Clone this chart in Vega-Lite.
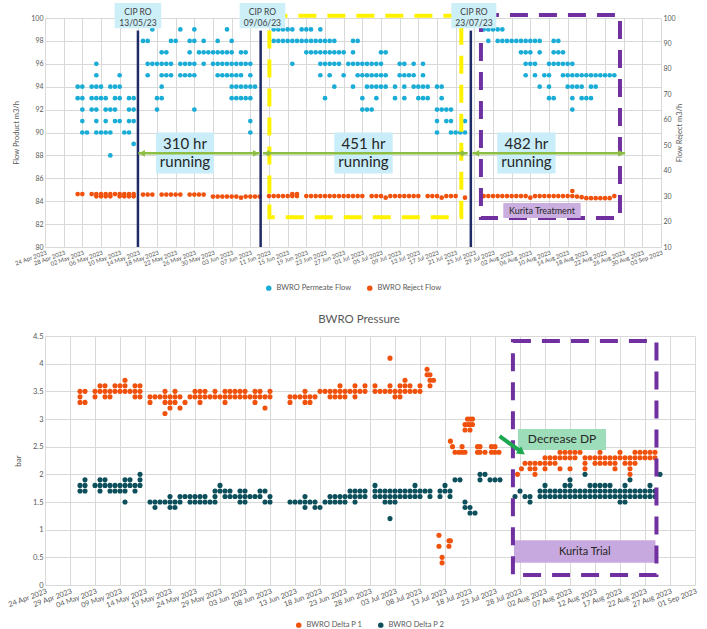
{
"$schema":"https://vega.github.io/schema/vega-lite/v6.json",
"padding":{"left":6,"top":3,"right":4,"bottom":2},
"columns":1,
"spacing":21,
"resolve":{"scale":{"color":"independent"},"legend":{"color":"independent"}},
"config":{"font":"Lato","view":{"stroke":null},
"axis":{"labelColor":"#595959","titleColor":"#595959","gridColor":"#D9D9D9","domain":false,"ticks":false,"titleFontWeight":"normal","labelFlush":false,"labelOverlap":false,"labelBound":false},
"legend":{"layout":{"bottom":{"anchor":"middle"}}}},
"datasets":{
"perm":[
{"d":"2023-05-17","v":99},{"d":"2023-05-23","v":99},{"d":"2023-05-26","v":99},{"d":"2023-06-02","v":99},{"d":"2023-06-12","v":99},{"d":"2023-06-13","v":99},{"d":"2023-06-14","v":99},{"d":"2023-06-15","v":99},{"d":"2023-06-16","v":99},{"d":"2023-06-18","v":99},{"d":"2023-06-19","v":99},{"d":"2023-06-20","v":99},{"d":"2023-06-22","v":99},{"d":"2023-07-27","v":99},{"d":"2023-07-28","v":99},{"d":"2023-07-29","v":99},{"d":"2023-07-30","v":99},{"d":"2023-07-31","v":99},
{"d":"2023-05-15","v":98},{"d":"2023-05-16","v":98},{"d":"2023-05-21","v":98},{"d":"2023-05-22","v":98},{"d":"2023-05-25","v":98},{"d":"2023-05-26","v":98},{"d":"2023-05-28","v":98},{"d":"2023-05-31","v":98},{"d":"2023-06-03","v":98},{"d":"2023-06-12","v":98},{"d":"2023-06-13","v":98},{"d":"2023-06-14","v":98},{"d":"2023-06-15","v":98},{"d":"2023-06-16","v":98},{"d":"2023-06-17","v":98},{"d":"2023-06-18","v":98},{"d":"2023-06-19","v":98},{"d":"2023-06-20","v":98},{"d":"2023-06-21","v":98},{"d":"2023-06-22","v":98},{"d":"2023-06-23","v":98},{"d":"2023-06-24","v":98},{"d":"2023-06-25","v":98},{"d":"2023-06-29","v":98},{"d":"2023-06-30","v":98},{"d":"2023-07-28","v":98},{"d":"2023-07-30","v":98},{"d":"2023-07-31","v":98},{"d":"2023-08-01","v":98},{"d":"2023-08-02","v":98},{"d":"2023-08-03","v":98},{"d":"2023-08-04","v":98},{"d":"2023-08-05","v":98},{"d":"2023-08-06","v":98},{"d":"2023-08-07","v":98},{"d":"2023-08-08","v":98},{"d":"2023-08-11","v":98},{"d":"2023-08-12","v":98},
{"d":"2023-05-19","v":97},{"d":"2023-05-20","v":97},{"d":"2023-05-25","v":97},{"d":"2023-05-27","v":97},{"d":"2023-05-28","v":97},{"d":"2023-05-29","v":97},{"d":"2023-05-30","v":97},{"d":"2023-05-31","v":97},{"d":"2023-06-01","v":97},{"d":"2023-06-02","v":97},{"d":"2023-06-03","v":97},{"d":"2023-06-05","v":97},{"d":"2023-06-06","v":97},{"d":"2023-06-19","v":97},{"d":"2023-06-20","v":97},{"d":"2023-06-21","v":97},{"d":"2023-06-22","v":97},{"d":"2023-06-23","v":97},{"d":"2023-06-24","v":97},{"d":"2023-06-25","v":97},{"d":"2023-06-26","v":97},{"d":"2023-06-27","v":97},{"d":"2023-06-29","v":97},{"d":"2023-07-05","v":97},{"d":"2023-07-06","v":97},{"d":"2023-08-04","v":97},{"d":"2023-08-05","v":97},{"d":"2023-08-06","v":97},{"d":"2023-08-08","v":97},{"d":"2023-08-11","v":97},{"d":"2023-08-12","v":97},{"d":"2023-08-13","v":97},
{"d":"2023-05-05","v":96},{"d":"2023-05-16","v":96},{"d":"2023-05-17","v":96},{"d":"2023-05-18","v":96},{"d":"2023-05-19","v":96},{"d":"2023-05-20","v":96},{"d":"2023-05-21","v":96},{"d":"2023-05-23","v":96},{"d":"2023-05-24","v":96},{"d":"2023-05-25","v":96},{"d":"2023-05-26","v":96},{"d":"2023-05-28","v":96},{"d":"2023-05-30","v":96},{"d":"2023-05-31","v":96},{"d":"2023-06-01","v":96},{"d":"2023-06-02","v":96},{"d":"2023-06-03","v":96},{"d":"2023-06-04","v":96},{"d":"2023-06-05","v":96},{"d":"2023-06-06","v":96},{"d":"2023-06-07","v":96},{"d":"2023-06-16","v":96},{"d":"2023-06-22","v":96},{"d":"2023-06-23","v":96},{"d":"2023-06-24","v":96},{"d":"2023-06-25","v":96},{"d":"2023-06-26","v":96},{"d":"2023-06-28","v":96},{"d":"2023-06-29","v":96},{"d":"2023-06-30","v":96},{"d":"2023-07-01","v":96},{"d":"2023-07-02","v":96},{"d":"2023-07-03","v":96},{"d":"2023-07-04","v":96},{"d":"2023-07-05","v":96},{"d":"2023-07-09","v":96},{"d":"2023-07-10","v":96},{"d":"2023-07-12","v":96},{"d":"2023-07-14","v":96},{"d":"2023-08-05","v":96},{"d":"2023-08-06","v":96},{"d":"2023-08-07","v":96},{"d":"2023-08-10","v":96},{"d":"2023-08-11","v":96},{"d":"2023-08-12","v":96},{"d":"2023-08-13","v":96},{"d":"2023-08-14","v":96},{"d":"2023-08-15","v":96},
{"d":"2023-05-05","v":95},{"d":"2023-05-10","v":95},{"d":"2023-05-16","v":95},{"d":"2023-05-19","v":95},{"d":"2023-05-20","v":95},{"d":"2023-05-21","v":95},{"d":"2023-05-23","v":95},{"d":"2023-05-24","v":95},{"d":"2023-05-25","v":95},{"d":"2023-05-26","v":95},{"d":"2023-05-31","v":95},{"d":"2023-06-01","v":95},{"d":"2023-06-02","v":95},{"d":"2023-06-03","v":95},{"d":"2023-06-04","v":95},{"d":"2023-06-05","v":95},{"d":"2023-06-07","v":95},{"d":"2023-06-22","v":95},{"d":"2023-06-24","v":95},{"d":"2023-06-27","v":95},{"d":"2023-06-30","v":95},{"d":"2023-07-01","v":95},{"d":"2023-07-02","v":95},{"d":"2023-07-03","v":95},{"d":"2023-07-04","v":95},{"d":"2023-07-05","v":95},{"d":"2023-07-06","v":95},{"d":"2023-07-09","v":95},{"d":"2023-07-10","v":95},{"d":"2023-07-11","v":95},{"d":"2023-07-12","v":95},{"d":"2023-07-14","v":95},{"d":"2023-08-05","v":95},{"d":"2023-08-07","v":95},{"d":"2023-08-09","v":95},{"d":"2023-08-10","v":95},{"d":"2023-08-13","v":95},{"d":"2023-08-14","v":95},{"d":"2023-08-15","v":95},{"d":"2023-08-16","v":95},{"d":"2023-08-17","v":95},{"d":"2023-08-18","v":95},{"d":"2023-08-19","v":95},{"d":"2023-08-20","v":95},{"d":"2023-08-21","v":95},{"d":"2023-08-22","v":95},{"d":"2023-08-23","v":95},{"d":"2023-08-24","v":95},
{"d":"2023-05-01","v":94},{"d":"2023-05-02","v":94},{"d":"2023-05-04","v":94},{"d":"2023-05-05","v":94},{"d":"2023-05-06","v":94},{"d":"2023-05-08","v":94},{"d":"2023-05-09","v":94},{"d":"2023-05-10","v":94},{"d":"2023-05-19","v":94},{"d":"2023-06-03","v":94},{"d":"2023-06-04","v":94},{"d":"2023-06-05","v":94},{"d":"2023-06-06","v":94},{"d":"2023-06-07","v":94},{"d":"2023-06-08","v":94},{"d":"2023-06-25","v":94},{"d":"2023-06-29","v":94},{"d":"2023-07-02","v":94},{"d":"2023-07-03","v":94},{"d":"2023-07-04","v":94},{"d":"2023-07-05","v":94},{"d":"2023-07-06","v":94},{"d":"2023-07-08","v":94},{"d":"2023-07-10","v":94},{"d":"2023-07-12","v":94},{"d":"2023-07-13","v":94},{"d":"2023-07-14","v":94},{"d":"2023-07-15","v":94},{"d":"2023-07-17","v":94},{"d":"2023-07-18","v":94},{"d":"2023-08-08","v":94},{"d":"2023-08-10","v":94},{"d":"2023-08-14","v":94},{"d":"2023-08-15","v":94},{"d":"2023-08-16","v":94},{"d":"2023-08-17","v":94},{"d":"2023-08-19","v":94},{"d":"2023-08-20","v":94},
{"d":"2023-05-01","v":93},{"d":"2023-05-02","v":93},{"d":"2023-05-04","v":93},{"d":"2023-05-05","v":93},{"d":"2023-05-06","v":93},{"d":"2023-05-07","v":93},{"d":"2023-05-09","v":93},{"d":"2023-05-10","v":93},{"d":"2023-05-12","v":93},{"d":"2023-05-13","v":93},{"d":"2023-05-18","v":93},{"d":"2023-05-19","v":93},{"d":"2023-06-03","v":93},{"d":"2023-06-04","v":93},{"d":"2023-06-05","v":93},{"d":"2023-06-06","v":93},{"d":"2023-06-07","v":93},{"d":"2023-06-23","v":93},{"d":"2023-07-01","v":93},{"d":"2023-07-04","v":93},{"d":"2023-07-08","v":93},{"d":"2023-07-10","v":93},{"d":"2023-07-13","v":93},{"d":"2023-07-14","v":93},{"d":"2023-07-15","v":93},{"d":"2023-07-18","v":93},{"d":"2023-08-10","v":93},{"d":"2023-08-11","v":93},{"d":"2023-08-15","v":93},{"d":"2023-08-17","v":93},{"d":"2023-08-18","v":93},{"d":"2023-08-19","v":93},
{"d":"2023-05-02","v":92},{"d":"2023-05-04","v":92},{"d":"2023-05-05","v":92},{"d":"2023-05-07","v":92},{"d":"2023-05-08","v":92},{"d":"2023-05-09","v":92},{"d":"2023-05-12","v":92},{"d":"2023-05-13","v":92},{"d":"2023-05-18","v":92},{"d":"2023-05-26","v":92},{"d":"2023-07-01","v":92},{"d":"2023-07-02","v":92},{"d":"2023-07-03","v":92},{"d":"2023-07-17","v":92},{"d":"2023-07-18","v":92},{"d":"2023-07-19","v":92},{"d":"2023-07-20","v":92},{"d":"2023-08-15","v":92},
{"d":"2023-05-02","v":91},{"d":"2023-05-05","v":91},{"d":"2023-05-07","v":91},{"d":"2023-05-09","v":91},{"d":"2023-05-10","v":91},{"d":"2023-05-12","v":91},{"d":"2023-05-13","v":91},{"d":"2023-06-07","v":91},{"d":"2023-07-17","v":91},{"d":"2023-07-19","v":91},{"d":"2023-07-20","v":91},{"d":"2023-07-23","v":91},
{"d":"2023-05-02","v":90},{"d":"2023-05-03","v":90},{"d":"2023-05-05","v":90},{"d":"2023-05-06","v":90},{"d":"2023-05-07","v":90},{"d":"2023-05-08","v":90},{"d":"2023-05-11","v":90},{"d":"2023-05-12","v":90},{"d":"2023-06-07","v":90},{"d":"2023-07-17","v":90},{"d":"2023-07-20","v":90},{"d":"2023-07-21","v":90},{"d":"2023-07-22","v":90},{"d":"2023-07-23","v":90},
{"d":"2023-05-13","v":89},{"d":"2023-05-08","v":88}
],
"rej":[
{"d":"2023-05-01","v":30.8},{"d":"2023-05-02","v":30.8},{"d":"2023-05-04","v":30.8},{"d":"2023-05-05","v":30.8},{"d":"2023-05-06","v":30.8},{"d":"2023-05-07","v":30.8},{"d":"2023-05-08","v":30.8},{"d":"2023-05-09","v":30.8},{"d":"2023-05-10","v":30.8},{"d":"2023-05-11","v":30.8},{"d":"2023-05-12","v":30.8},{"d":"2023-05-13","v":30.8},
{"d":"2023-05-05","v":29.9},{"d":"2023-05-06","v":29.9},{"d":"2023-05-07","v":29.9},{"d":"2023-05-08","v":29.9},{"d":"2023-05-10","v":29.9},{"d":"2023-05-11","v":29.9},{"d":"2023-05-12","v":29.9},{"d":"2023-05-13","v":29.9},
{"d":"2023-05-15","v":30.6},{"d":"2023-05-16","v":30.6},{"d":"2023-05-17","v":30.6},{"d":"2023-05-19","v":30.6},{"d":"2023-05-20","v":30.6},{"d":"2023-05-21","v":30.6},{"d":"2023-05-22","v":30.6},{"d":"2023-05-23","v":30.6},{"d":"2023-05-25","v":30.6},{"d":"2023-05-26","v":30.6},{"d":"2023-05-27","v":30.6},{"d":"2023-05-28","v":30.6},
{"d":"2023-05-30","v":29.8},{"d":"2023-05-31","v":29.8},{"d":"2023-06-01","v":29.8},{"d":"2023-06-02","v":29.8},{"d":"2023-06-03","v":29.8},{"d":"2023-06-04","v":29.8},{"d":"2023-06-05","v":29.4},{"d":"2023-06-06","v":29.8},{"d":"2023-06-07","v":29.8},{"d":"2023-06-08","v":29.8},{"d":"2023-06-09","v":29.8},
{"d":"2023-06-11","v":30},{"d":"2023-06-12","v":30},{"d":"2023-06-13","v":30},{"d":"2023-06-14","v":30},{"d":"2023-06-15","v":30},{"d":"2023-06-16","v":30},{"d":"2023-06-16","v":30.8},{"d":"2023-06-17","v":30.8},{"d":"2023-06-17","v":30},{"d":"2023-06-19","v":30},{"d":"2023-06-20","v":30},{"d":"2023-06-21","v":30},{"d":"2023-06-22","v":30},{"d":"2023-06-23","v":30},{"d":"2023-06-24","v":30},{"d":"2023-06-25","v":30},{"d":"2023-06-26","v":30},{"d":"2023-06-27","v":30},{"d":"2023-06-28","v":30},{"d":"2023-06-29","v":30},{"d":"2023-06-30","v":30},{"d":"2023-07-01","v":30},
{"d":"2023-07-03","v":30},{"d":"2023-07-04","v":30},{"d":"2023-07-05","v":30},{"d":"2023-07-06","v":29.4},{"d":"2023-07-07","v":30},{"d":"2023-07-08","v":30},{"d":"2023-07-09","v":30},{"d":"2023-07-10","v":30},{"d":"2023-07-11","v":30},{"d":"2023-07-12","v":30},{"d":"2023-07-13","v":30},{"d":"2023-07-15","v":30},{"d":"2023-07-16","v":30},{"d":"2023-07-17","v":30},{"d":"2023-07-18","v":29.4},{"d":"2023-07-19","v":30},{"d":"2023-07-20","v":30},{"d":"2023-07-21","v":30},{"d":"2023-07-23","v":29.4},
{"d":"2023-07-27","v":30},{"d":"2023-07-28","v":30},{"d":"2023-07-29","v":30},{"d":"2023-07-30","v":30},{"d":"2023-07-31","v":30},{"d":"2023-08-01","v":30},{"d":"2023-08-02","v":30},{"d":"2023-08-03","v":30},{"d":"2023-08-04","v":30},{"d":"2023-08-05","v":30},{"d":"2023-08-06","v":29.4},{"d":"2023-08-07","v":30},{"d":"2023-08-08","v":30},{"d":"2023-08-09","v":30},{"d":"2023-08-10","v":30},{"d":"2023-08-11","v":30},{"d":"2023-08-12","v":30},{"d":"2023-08-13","v":30},{"d":"2023-08-14","v":30},{"d":"2023-08-15","v":32},{"d":"2023-08-15","v":30},{"d":"2023-08-16","v":29.8},{"d":"2023-08-17","v":29.6},{"d":"2023-08-18","v":29.2},{"d":"2023-08-19","v":29.2},{"d":"2023-08-20","v":29.2},{"d":"2023-08-21","v":29.2},{"d":"2023-08-22","v":29.2},{"d":"2023-08-23","v":29.2},{"d":"2023-08-24","v":30}
],
"dp1":[
{"d":"2023-05-01","v":3.5},{"d":"2023-05-01","v":3.4},{"d":"2023-05-01","v":3.3},{"d":"2023-05-02","v":3.5},{"d":"2023-05-02","v":3.3},{"d":"2023-05-04","v":3.5},{"d":"2023-05-04","v":3.4},{"d":"2023-05-05","v":3.5},{"d":"2023-05-05","v":3.6},{"d":"2023-05-06","v":3.5},{"d":"2023-05-06","v":3.6},{"d":"2023-05-06","v":3.4},{"d":"2023-05-07","v":3.5},{"d":"2023-05-07","v":3.4},{"d":"2023-05-08","v":3.5},{"d":"2023-05-08","v":3.6},{"d":"2023-05-09","v":3.5},{"d":"2023-05-09","v":3.6},{"d":"2023-05-10","v":3.5},{"d":"2023-05-10","v":3.6},{"d":"2023-05-10","v":3.7},{"d":"2023-05-11","v":3.5},{"d":"2023-05-12","v":3.5},{"d":"2023-05-12","v":3.4},{"d":"2023-05-12","v":3.6},{"d":"2023-05-13","v":3.5},{"d":"2023-05-13","v":3.4},{"d":"2023-05-13","v":3.6},
{"d":"2023-05-15","v":3.4},{"d":"2023-05-15","v":3.3},{"d":"2023-05-16","v":3.4},{"d":"2023-05-17","v":3.4},{"d":"2023-05-18","v":3.4},{"d":"2023-05-18","v":3.3},{"d":"2023-05-18","v":3.1},{"d":"2023-05-18","v":3.5},{"d":"2023-05-19","v":3.4},{"d":"2023-05-19","v":3.3},{"d":"2023-05-19","v":3.2},{"d":"2023-05-20","v":3.4},{"d":"2023-05-20","v":3.3},{"d":"2023-05-20","v":3.5},{"d":"2023-05-21","v":3.4},{"d":"2023-05-21","v":3.2},{"d":"2023-05-22","v":3.3},{"d":"2023-05-23","v":3.4},{"d":"2023-05-24","v":3.5},{"d":"2023-05-24","v":3.4},{"d":"2023-05-25","v":3.3},{"d":"2023-05-25","v":3.5},{"d":"2023-05-25","v":3.4},{"d":"2023-05-26","v":3.5},{"d":"2023-05-26","v":3.4},{"d":"2023-05-27","v":3.4},{"d":"2023-05-28","v":3.4},{"d":"2023-05-28","v":3.5},{"d":"2023-05-29","v":3.4},{"d":"2023-05-30","v":3.3},{"d":"2023-05-30","v":3.4},{"d":"2023-05-30","v":3.5},{"d":"2023-05-31","v":3.4},{"d":"2023-05-31","v":3.5},{"d":"2023-06-01","v":3.4},{"d":"2023-06-01","v":3.5},{"d":"2023-06-02","v":3.4},{"d":"2023-06-02","v":3.5},{"d":"2023-06-03","v":3.4},{"d":"2023-06-03","v":3.5},{"d":"2023-06-04","v":3.4},{"d":"2023-06-05","v":3.3},{"d":"2023-06-05","v":3.4},{"d":"2023-06-05","v":3.5},{"d":"2023-06-06","v":3.4},{"d":"2023-06-06","v":3.5},{"d":"2023-06-07","v":3.2},{"d":"2023-06-07","v":3.4},{"d":"2023-06-08","v":3.4},{"d":"2023-06-08","v":3.5},
{"d":"2023-06-12","v":3.3},{"d":"2023-06-12","v":3.4},{"d":"2023-06-13","v":3.4},{"d":"2023-06-14","v":3.4},{"d":"2023-06-15","v":3.4},{"d":"2023-06-15","v":3.5},{"d":"2023-06-15","v":3.3},{"d":"2023-06-16","v":3.4},{"d":"2023-06-16","v":3.3},{"d":"2023-06-17","v":3.4},{"d":"2023-06-18","v":3.5},{"d":"2023-06-19","v":3.5},{"d":"2023-06-20","v":3.5},{"d":"2023-06-20","v":3.4},{"d":"2023-06-21","v":3.4},{"d":"2023-06-21","v":3.5},{"d":"2023-06-22","v":3.4},{"d":"2023-06-22","v":3.5},{"d":"2023-06-22","v":3.6},{"d":"2023-06-23","v":3.4},{"d":"2023-06-23","v":3.5},{"d":"2023-06-24","v":3.5},{"d":"2023-06-25","v":3.5},{"d":"2023-06-25","v":3.4},{"d":"2023-06-25","v":3.6},{"d":"2023-06-26","v":3.5},{"d":"2023-06-27","v":3.5},{"d":"2023-06-27","v":3.6},{"d":"2023-06-29","v":3.5},{"d":"2023-06-29","v":3.6},{"d":"2023-06-30","v":3.5},{"d":"2023-07-01","v":3.5},{"d":"2023-07-02","v":3.5},{"d":"2023-07-02","v":3.6},{"d":"2023-07-02","v":4.1},{"d":"2023-07-03","v":3.5},{"d":"2023-07-03","v":3.4},{"d":"2023-07-04","v":3.5},{"d":"2023-07-04","v":3.6},{"d":"2023-07-04","v":3.4},{"d":"2023-07-05","v":3.5},{"d":"2023-07-05","v":3.6},{"d":"2023-07-05","v":3.7},{"d":"2023-07-06","v":3.5},{"d":"2023-07-06","v":3.6},{"d":"2023-07-07","v":3.5},{"d":"2023-07-08","v":3.5},{"d":"2023-07-08","v":3.6},
{"d":"2023-07-09T10:00:00Z","v":3.9},{"d":"2023-07-09T10:00:00Z","v":3.8},{"d":"2023-07-10","v":3.8},{"d":"2023-07-10","v":3.7},{"d":"2023-07-10","v":3.6},{"d":"2023-07-10T17:00:00Z","v":3.7},
{"d":"2023-07-11T19:00:00Z","v":0.9},{"d":"2023-07-11T19:00:00Z","v":0.7},{"d":"2023-07-12T10:00:00Z","v":0.5},{"d":"2023-07-12T10:00:00Z","v":0.4},{"d":"2023-07-13T19:00:00Z","v":0.8},{"d":"2023-07-13T19:00:00Z","v":0.7},{"d":"2023-07-14T02:00:00Z","v":0.8},
{"d":"2023-07-14T02:00:00Z","v":2.6},{"d":"2023-07-14T12:00:00Z","v":2.5},{"d":"2023-07-15","v":2.4},{"d":"2023-07-15T19:00:00Z","v":2.4},{"d":"2023-07-16T10:00:00Z","v":2.4},{"d":"2023-07-16T10:00:00Z","v":2.5},{"d":"2023-07-17","v":2.4},{"d":"2023-07-17","v":2.8},{"d":"2023-07-17","v":2.9},{"d":"2023-07-17T12:00:00Z","v":3.0},{"d":"2023-07-17T12:00:00Z","v":2.9},{"d":"2023-07-18","v":3.0},{"d":"2023-07-18","v":2.9},{"d":"2023-07-18","v":2.8},{"d":"2023-07-18T12:00:00Z","v":3.0},{"d":"2023-07-18T12:00:00Z","v":2.9},{"d":"2023-07-19T12:00:00Z","v":2.5},{"d":"2023-07-19T12:00:00Z","v":2.4},{"d":"2023-07-20","v":2.4},{"d":"2023-07-20","v":2.5},{"d":"2023-07-21","v":2.4},{"d":"2023-07-22T07:00:00Z","v":2.4},{"d":"2023-07-22T07:00:00Z","v":2.5},{"d":"2023-07-23","v":2.4},{"d":"2023-07-23","v":2.5},{"d":"2023-07-23T19:00:00Z","v":2.4},
{"d":"2023-07-27T12:00:00Z","v":2.0},{"d":"2023-07-28T07:00:00Z","v":2.1},{"d":"2023-07-29","v":2.2},{"d":"2023-07-30","v":2.2},{"d":"2023-07-30","v":2.1},{"d":"2023-07-31","v":2.2},{"d":"2023-07-31","v":2.1},{"d":"2023-07-31","v":2.0},{"d":"2023-08-01","v":2.2},{"d":"2023-08-02","v":2.2},{"d":"2023-08-02","v":2.3},{"d":"2023-08-02","v":2.1},{"d":"2023-08-03","v":2.3},{"d":"2023-08-03","v":2.2},{"d":"2023-08-04","v":2.3},{"d":"2023-08-04","v":2.2},{"d":"2023-08-05","v":2.3},{"d":"2023-08-05","v":2.4},{"d":"2023-08-05","v":2.1},{"d":"2023-08-06","v":2.3},{"d":"2023-08-06","v":2.4},{"d":"2023-08-07","v":2.3},{"d":"2023-08-07","v":2.4},{"d":"2023-08-07","v":2.1},{"d":"2023-08-08","v":2.3},{"d":"2023-08-08","v":2.4},{"d":"2023-08-09","v":2.4},{"d":"2023-08-10","v":2.3},{"d":"2023-08-10","v":2.2},{"d":"2023-08-10","v":2.1},{"d":"2023-08-11","v":2.3},{"d":"2023-08-12","v":2.3},{"d":"2023-08-12","v":2.2},{"d":"2023-08-13","v":2.3},{"d":"2023-08-13","v":2.4},{"d":"2023-08-13","v":2.2},{"d":"2023-08-14","v":2.2},{"d":"2023-08-14","v":2.3},{"d":"2023-08-15","v":2.2},{"d":"2023-08-15","v":2.3},{"d":"2023-08-16","v":2.2},{"d":"2023-08-16","v":2.3},{"d":"2023-08-16","v":2.1},{"d":"2023-08-17","v":2.3},{"d":"2023-08-17","v":2.4},{"d":"2023-08-18","v":2.3},{"d":"2023-08-18","v":2.2},{"d":"2023-08-19","v":2.3},{"d":"2023-08-19","v":2.2},{"d":"2023-08-19","v":2.1},{"d":"2023-08-19","v":2.0},{"d":"2023-08-20","v":2.4},{"d":"2023-08-20","v":2.3},{"d":"2023-08-20","v":2.2},{"d":"2023-08-21","v":2.4},{"d":"2023-08-21","v":2.3},{"d":"2023-08-22","v":2.4},{"d":"2023-08-22","v":2.3},{"d":"2023-08-23","v":2.4},{"d":"2023-08-23","v":2.3},{"d":"2023-08-24","v":2.4},{"d":"2023-08-24","v":2.3}
],
"dp2":[
{"d":"2023-05-01","v":1.8},{"d":"2023-05-01","v":1.7},{"d":"2023-05-02","v":1.9},{"d":"2023-05-02","v":1.8},{"d":"2023-05-02","v":1.7},{"d":"2023-05-04","v":1.8},{"d":"2023-05-05","v":1.8},{"d":"2023-05-05","v":1.9},{"d":"2023-05-05","v":1.7},{"d":"2023-05-06","v":1.8},{"d":"2023-05-06","v":1.9},{"d":"2023-05-07","v":1.8},{"d":"2023-05-07","v":1.7},{"d":"2023-05-08","v":1.8},{"d":"2023-05-08","v":1.7},{"d":"2023-05-09","v":1.8},{"d":"2023-05-09","v":1.7},{"d":"2023-05-10","v":1.8},{"d":"2023-05-10","v":1.9},{"d":"2023-05-10","v":1.5},{"d":"2023-05-10","v":1.7},{"d":"2023-05-11","v":1.8},{"d":"2023-05-11","v":1.9},{"d":"2023-05-12","v":1.8},{"d":"2023-05-12","v":1.7},{"d":"2023-05-13","v":1.8},{"d":"2023-05-13","v":1.9},{"d":"2023-05-13","v":2.0},
{"d":"2023-05-15","v":1.5},{"d":"2023-05-16","v":1.5},{"d":"2023-05-16","v":1.4},{"d":"2023-05-17","v":1.5},{"d":"2023-05-18","v":1.5},{"d":"2023-05-19","v":1.5},{"d":"2023-05-19","v":1.4},{"d":"2023-05-19","v":1.6},{"d":"2023-05-20","v":1.5},{"d":"2023-05-20","v":1.4},{"d":"2023-05-21","v":1.5},{"d":"2023-05-21","v":1.6},{"d":"2023-05-22","v":1.6},{"d":"2023-05-23","v":1.6},{"d":"2023-05-23","v":1.5},{"d":"2023-05-24","v":1.6},{"d":"2023-05-24","v":1.5},{"d":"2023-05-25","v":1.6},{"d":"2023-05-25","v":1.5},{"d":"2023-05-26","v":1.6},{"d":"2023-05-26","v":1.5},{"d":"2023-05-27","v":1.5},{"d":"2023-05-28","v":1.5},{"d":"2023-05-28","v":1.6},{"d":"2023-05-28","v":1.7},{"d":"2023-05-29","v":1.8},{"d":"2023-05-29","v":1.7},{"d":"2023-05-30","v":1.7},{"d":"2023-05-30","v":1.6},{"d":"2023-05-31","v":1.7},{"d":"2023-05-31","v":1.6},{"d":"2023-06-01","v":1.6},{"d":"2023-06-02","v":1.7},{"d":"2023-06-02","v":1.6},{"d":"2023-06-02","v":1.5},{"d":"2023-06-03","v":1.7},{"d":"2023-06-03","v":1.6},{"d":"2023-06-03","v":1.5},{"d":"2023-06-04","v":1.6},{"d":"2023-06-05","v":1.6},{"d":"2023-06-06","v":1.6},{"d":"2023-06-06","v":1.7},{"d":"2023-06-07","v":1.7},{"d":"2023-06-07","v":1.5},{"d":"2023-06-08","v":1.6},{"d":"2023-06-08","v":1.5},
{"d":"2023-06-12","v":1.5},{"d":"2023-06-13","v":1.5},{"d":"2023-06-14","v":1.5},{"d":"2023-06-15","v":1.5},{"d":"2023-06-15","v":1.4},{"d":"2023-06-15","v":1.6},{"d":"2023-06-16","v":1.5},{"d":"2023-06-17","v":1.5},{"d":"2023-06-17","v":1.4},{"d":"2023-06-18","v":1.4},{"d":"2023-06-19","v":1.5},{"d":"2023-06-20","v":1.5},{"d":"2023-06-20","v":1.6},{"d":"2023-06-21","v":1.5},{"d":"2023-06-21","v":1.6},{"d":"2023-06-22","v":1.6},{"d":"2023-06-22","v":1.5},{"d":"2023-06-23","v":1.6},{"d":"2023-06-23","v":1.5},{"d":"2023-06-24","v":1.6},{"d":"2023-06-24","v":1.7},{"d":"2023-06-25","v":1.6},{"d":"2023-06-25","v":1.7},{"d":"2023-06-25","v":1.5},{"d":"2023-06-26","v":1.6},{"d":"2023-06-26","v":1.7},{"d":"2023-06-27","v":1.7},{"d":"2023-06-27","v":1.6},{"d":"2023-06-29","v":1.8},{"d":"2023-06-29","v":1.7},{"d":"2023-06-29","v":1.6},{"d":"2023-06-30","v":1.7},{"d":"2023-06-30","v":1.6},{"d":"2023-07-01","v":1.7},{"d":"2023-07-01","v":1.6},{"d":"2023-07-01","v":1.5},{"d":"2023-07-02","v":1.7},{"d":"2023-07-02","v":1.6},{"d":"2023-07-02","v":1.5},{"d":"2023-07-02","v":1.2},{"d":"2023-07-03","v":1.7},{"d":"2023-07-03","v":1.6},{"d":"2023-07-03","v":1.5},{"d":"2023-07-04","v":1.7},{"d":"2023-07-04","v":1.6},{"d":"2023-07-05","v":1.7},{"d":"2023-07-05","v":1.6},{"d":"2023-07-06","v":1.7},{"d":"2023-07-06","v":1.6},{"d":"2023-07-07","v":1.8},{"d":"2023-07-07","v":1.7},{"d":"2023-07-07","v":1.6},{"d":"2023-07-08","v":1.7},{"d":"2023-07-08","v":1.6},{"d":"2023-07-09","v":1.7},{"d":"2023-07-10","v":1.7},{"d":"2023-07-10","v":1.6},{"d":"2023-07-12","v":1.7},{"d":"2023-07-12","v":1.6},{"d":"2023-07-13","v":1.8},{"d":"2023-07-13","v":1.7},{"d":"2023-07-14","v":1.7},{"d":"2023-07-14","v":1.6},{"d":"2023-07-15","v":1.9},{"d":"2023-07-16","v":1.9},{"d":"2023-07-17","v":1.5},{"d":"2023-07-17","v":1.4},{"d":"2023-07-18","v":1.4},{"d":"2023-07-18","v":1.3},{"d":"2023-07-19","v":1.3},{"d":"2023-07-20","v":2.0},{"d":"2023-07-20","v":1.9},{"d":"2023-07-21","v":2.0},{"d":"2023-07-22","v":1.9},{"d":"2023-07-23","v":1.9},{"d":"2023-07-24","v":1.9},
{"d":"2023-07-27","v":1.6},{"d":"2023-07-28","v":1.7},{"d":"2023-07-29","v":1.6},{"d":"2023-07-30","v":1.6},{"d":"2023-07-30","v":1.5},{"d":"2023-08-01","v":1.6},{"d":"2023-08-01","v":1.7},{"d":"2023-08-02","v":1.8},{"d":"2023-08-02","v":1.7},{"d":"2023-08-02","v":1.6},
{"d":"2023-08-03","v":1.6},{"d":"2023-08-03","v":1.7},{"d":"2023-08-04","v":1.6},{"d":"2023-08-04","v":1.7},{"d":"2023-08-05","v":1.6},{"d":"2023-08-05","v":1.7},{"d":"2023-08-06","v":1.6},{"d":"2023-08-06","v":1.7},{"d":"2023-08-06","v":1.8},{"d":"2023-08-07","v":1.6},{"d":"2023-08-07","v":1.7},{"d":"2023-08-07","v":1.8},{"d":"2023-08-07","v":1.9},{"d":"2023-08-08","v":1.6},{"d":"2023-08-08","v":1.7},{"d":"2023-08-09","v":1.6},{"d":"2023-08-09","v":1.7},{"d":"2023-08-10","v":1.6},{"d":"2023-08-10","v":1.7},{"d":"2023-08-10","v":2.0},{"d":"2023-08-11","v":1.6},{"d":"2023-08-11","v":1.7},{"d":"2023-08-11","v":1.8},{"d":"2023-08-12","v":1.6},{"d":"2023-08-12","v":1.7},{"d":"2023-08-12","v":1.8},{"d":"2023-08-13","v":1.6},{"d":"2023-08-13","v":1.7},{"d":"2023-08-13","v":1.8},{"d":"2023-08-14","v":1.6},{"d":"2023-08-14","v":1.7},{"d":"2023-08-14","v":1.8},{"d":"2023-08-15","v":1.6},{"d":"2023-08-15","v":1.7},{"d":"2023-08-15","v":1.8},{"d":"2023-08-16","v":1.6},{"d":"2023-08-16","v":1.7},{"d":"2023-08-17","v":1.6},{"d":"2023-08-17","v":1.7},{"d":"2023-08-17","v":1.5},{"d":"2023-08-18","v":1.6},{"d":"2023-08-18","v":1.7},{"d":"2023-08-18","v":1.5},{"d":"2023-08-18","v":1.8},{"d":"2023-08-19","v":1.6},{"d":"2023-08-19","v":1.7},{"d":"2023-08-19","v":1.9},{"d":"2023-08-20","v":1.6},{"d":"2023-08-20","v":1.7},{"d":"2023-08-21","v":1.6},{"d":"2023-08-21","v":1.7},{"d":"2023-08-22","v":1.6},{"d":"2023-08-22","v":1.7},{"d":"2023-08-23","v":1.6},{"d":"2023-08-23","v":1.7},{"d":"2023-08-23","v":1.8},{"d":"2023-08-24","v":1.6},{"d":"2023-08-24","v":1.7},{"d":"2023-08-25","v":2.0}
]
},
"concat":[
{
"width":616,"height":229,
"resolve":{"scale":{"y":"independent","x":"independent"}},
"layer":[
{"data":{"name":"perm"},"mark":{"type":"circle","size":22,"opacity":1},
"encoding":{
"x":{"field":"d","type":"temporal","scale":{"type":"utc","domain":[{"year":2023,"month":4,"date":24,"utc":true},{"year":2023,"month":9,"date":3,"utc":true}]},
"axis":{"title":null,"grid":true,"format":"%d %b %Y","labelAngle":-20,"labelFontSize":6,"labelPadding":2,"labelOverlap":false,"labelFlush":false,
"values":[{"year":2023,"month":4,"date":24,"utc":true},{"year":2023,"month":4,"date":28,"utc":true},{"year":2023,"month":5,"date":2,"utc":true},{"year":2023,"month":5,"date":6,"utc":true},{"year":2023,"month":5,"date":10,"utc":true},{"year":2023,"month":5,"date":14,"utc":true},{"year":2023,"month":5,"date":18,"utc":true},{"year":2023,"month":5,"date":22,"utc":true},{"year":2023,"month":5,"date":26,"utc":true},{"year":2023,"month":5,"date":30,"utc":true},{"year":2023,"month":6,"date":3,"utc":true},{"year":2023,"month":6,"date":7,"utc":true},{"year":2023,"month":6,"date":11,"utc":true},{"year":2023,"month":6,"date":15,"utc":true},{"year":2023,"month":6,"date":19,"utc":true},{"year":2023,"month":6,"date":23,"utc":true},{"year":2023,"month":6,"date":27,"utc":true},{"year":2023,"month":7,"date":1,"utc":true},{"year":2023,"month":7,"date":5,"utc":true},{"year":2023,"month":7,"date":9,"utc":true},{"year":2023,"month":7,"date":13,"utc":true},{"year":2023,"month":7,"date":17,"utc":true},{"year":2023,"month":7,"date":21,"utc":true},{"year":2023,"month":7,"date":25,"utc":true},{"year":2023,"month":7,"date":29,"utc":true},{"year":2023,"month":8,"date":2,"utc":true},{"year":2023,"month":8,"date":6,"utc":true},{"year":2023,"month":8,"date":10,"utc":true},{"year":2023,"month":8,"date":14,"utc":true},{"year":2023,"month":8,"date":18,"utc":true},{"year":2023,"month":8,"date":22,"utc":true},{"year":2023,"month":8,"date":26,"utc":true},{"year":2023,"month":8,"date":30,"utc":true},{"year":2023,"month":9,"date":3,"utc":true}]}},
"y":{"field":"v","type":"quantitative","scale":{"domain":[80,100]},"axis":{"title":"Flow Product m3/h","titleFontSize":7.5,"labelFontSize":7,"values":[80,82,84,86,88,90,92,94,96,98,100],"grid":true,"titlePadding":10,"labelOverlap":false}},
"color":{"datum":"BWRO Permeate Flow","type":"nominal","scale":{"domain":["BWRO Permeate Flow","BWRO Reject Flow"],"range":["#19ACD6","#F0520E"]},
"legend":{"title":null,"orient":"bottom","direction":"horizontal","symbolType":"circle","symbolSize":30,"labelFontSize":7.5,"labelColor":"#595959","columnPadding":14,"offset":17}}
}},
{"data":{"name":"rej"},"mark":{"type":"circle","size":22,"opacity":1},
"encoding":{
"x":{"field":"d","type":"temporal","scale":{"type":"utc","domain":[{"year":2023,"month":4,"date":24,"utc":true},{"year":2023,"month":9,"date":3,"utc":true}]},"axis":null},
"y":{"field":"v","type":"quantitative","scale":{"domain":[10,100]},"axis":{"orient":"right","title":"Flow Reject m3/h","titleAngle":270,"titleFontSize":7.5,"labelFontSize":7,"values":[10,20,30,40,50,60,70,80,90,100],"grid":false,"titlePadding":8,"labelOverlap":false}},
"color":{"datum":"BWRO Reject Flow","type":"nominal"}
}},
{"layer":[
{"data":{"values":[{"a":"2023-06-11T02:00:00Z","b":"2023-07-22T05:00:00Z"}]},
"mark":{"type":"rect","filled":false,"stroke":"#FFF200","strokeWidth":4,"strokeDash":[18,11]},
"encoding":{"x":{"field":"a","type":"temporal","scale":{"type":"utc","domain":[{"year":2023,"month":4,"date":24,"utc":true},{"year":2023,"month":9,"date":3,"utc":true}]},"axis":null},"x2":{"field":"b"},"y":{"datum":100.2,"scale":{"domain":[80,100]},"axis":null},"y2":{"datum":82.6}}},
{"data":{"values":[{"a":"2023-07-26T10:00:00Z","b":"2023-08-25T05:00:00Z"}]},
"mark":{"type":"rect","filled":false,"stroke":"#7030A0","strokeWidth":4,"strokeDash":[18,11]},
"encoding":{"x":{"field":"a","type":"temporal","axis":null},"x2":{"field":"b"},"y":{"datum":100.26,"axis":null},"y2":{"datum":82.53}}},
{"data":{"values":[{"a":"2023-05-08T22:00:00Z","b":"2023-05-18T22:00:00Z"},{"a":"2023-06-04T17:00:00Z","b":"2023-06-14T12:00:00Z"},{"a":"2023-07-20T02:00:00Z","b":"2023-07-29T17:00:00Z"}]},
"mark":{"type":"rect","fill":"#CCEFF8"},
"encoding":{"x":{"field":"a","type":"temporal","axis":null},"x2":{"field":"b"},"y":{"datum":101.3,"axis":null},"y2":{"datum":99.1}}},
{"data":{"values":[{"m":"2023-05-13T22:00:00Z","t":"CIP RO\n13/05/23"},{"m":"2023-06-09T14:00:00Z","t":"CIP RO\n09/06/23"},{"m":"2023-07-24T22:00:00Z","t":"CIP RO\n23/07/23"}]},
"mark":{"type":"text","fontSize":8.5,"lineHeight":11,"lineBreak":"\n","color":"#404040","baseline":"middle","align":"center"},
"encoding":{"x":{"field":"m","type":"temporal","axis":null},"y":{"datum":100.52,"axis":null},"text":{"field":"t"}}},
{"data":{"values":[{"d":"2023-05-13T22:00:00Z"},{"d":"2023-06-09T05:00:00Z"},{"d":"2023-07-24T06:00:00Z"}]},
"mark":{"type":"rule","color":"#1F2A68","strokeWidth":2.5},
"encoding":{"x":{"field":"d","type":"temporal","axis":null},"y":{"datum":98.9,"axis":null},"y2":{"datum":80}}},
{"data":{"values":[{"a":"2023-05-17T19:00:00Z","b":"2023-05-30T05:00:00Z"},{"a":"2023-06-25T00:00:00Z","b":"2023-07-07T12:00:00Z"},{"a":"2023-07-29T22:00:00Z","b":"2023-08-11T10:00:00Z"}]},
"mark":{"type":"rect","fill":"#C9EEF9"},
"encoding":{"x":{"field":"a","type":"temporal","axis":null},"x2":{"field":"b"},"y":{"datum":90.0,"axis":null},"y2":{"datum":86.42}}},
{"data":{"values":[{"a":"2023-05-14T00:00:00Z","b":"2023-06-09T00:00:00Z"},{"a":"2023-06-09T17:00:00Z","b":"2023-07-23T14:00:00Z"},{"a":"2023-07-24T14:00:00Z","b":"2023-08-26T07:00:00Z"}]},
"mark":{"type":"rule","color":"#8DBF45","strokeWidth":2.5},
"encoding":{"x":{"field":"a","type":"temporal","axis":null},"x2":{"field":"b"},"y":{"datum":88.18,"axis":null}}},
{"data":{"values":[{"d":"2023-05-14T19:00:00Z"},{"d":"2023-06-10T12:00:00Z"},{"d":"2023-07-25T10:00:00Z"}]},
"mark":{"type":"point","shape":"triangle-left","filled":true,"size":45,"color":"#8DBF45","opacity":1},
"encoding":{"x":{"field":"d","type":"temporal","axis":null},"y":{"datum":88.18,"axis":null}}},
{"data":{"values":[{"d":"2023-06-08T05:00:00Z"},{"d":"2023-07-22T19:00:00Z"},{"d":"2023-08-25T12:00:00Z"}]},
"mark":{"type":"point","shape":"triangle-right","filled":true,"size":45,"color":"#8DBF45","opacity":1},
"encoding":{"x":{"field":"d","type":"temporal","axis":null},"y":{"datum":88.18,"axis":null}}},
{"data":{"values":[{"m":"2023-05-24T00:00:00Z","t":"310 hr\nrunning"},{"m":"2023-07-01T06:00:00Z","t":"451 hr\nrunning"},{"m":"2023-08-05T04:00:00Z","t":"482 hr\nrunning"}]},
"mark":{"type":"text","fontSize":15,"lineHeight":18,"lineBreak":"\n","color":"#262626","baseline":"middle","align":"center"},
"encoding":{"x":{"field":"m","type":"temporal","axis":null},"y":{"datum":89.0,"axis":null},"text":{"field":"t"}}},
{"data":{"values":[{"a":"2023-07-31T05:00:00Z","b":"2023-08-16T19:00:00Z","m":"2023-08-08T12:00:00Z","t":"Kurita Treatment"}]},
"layer":[
{"mark":{"type":"rect","fill":"#CBAEE0"},"encoding":{"x":{"field":"a","type":"temporal","axis":null},"x2":{"field":"b"},"y":{"datum":83.84,"axis":null},"y2":{"datum":82.53}}},
{"mark":{"type":"text","fontSize":9,"color":"#262626","baseline":"middle","align":"center"},"encoding":{"x":{"field":"m","type":"temporal","axis":null},"y":{"datum":83.18,"axis":null},"text":{"field":"t"}}}
]}
]}
]
},
{
"width":650,"height":249,
"title":{"text":"BWRO Pressure","fontSize":11.5,"color":"#595959","fontWeight":"normal","offset":7,"dx":-11},
"resolve":{"scale":{"y":"independent","x":"independent"}},
"layer":[
{"data":{"name":"dp1"},"mark":{"type":"circle","size":26,"opacity":1},
"encoding":{
"x":{"field":"d","type":"temporal","scale":{"type":"utc","domain":[{"year":2023,"month":4,"date":24,"utc":true},{"year":2023,"month":9,"date":1,"utc":true}]},
"axis":{"title":null,"grid":true,"format":"%d %b %Y","labelAngle":-20,"labelFontSize":7.3,"labelPadding":2,"labelOverlap":false,"labelFlush":false,
"values":[{"year":2023,"month":4,"date":24,"utc":true},{"year":2023,"month":4,"date":29,"utc":true},{"year":2023,"month":5,"date":4,"utc":true},{"year":2023,"month":5,"date":9,"utc":true},{"year":2023,"month":5,"date":14,"utc":true},{"year":2023,"month":5,"date":19,"utc":true},{"year":2023,"month":5,"date":24,"utc":true},{"year":2023,"month":5,"date":29,"utc":true},{"year":2023,"month":6,"date":3,"utc":true},{"year":2023,"month":6,"date":8,"utc":true},{"year":2023,"month":6,"date":13,"utc":true},{"year":2023,"month":6,"date":18,"utc":true},{"year":2023,"month":6,"date":23,"utc":true},{"year":2023,"month":6,"date":28,"utc":true},{"year":2023,"month":7,"date":3,"utc":true},{"year":2023,"month":7,"date":8,"utc":true},{"year":2023,"month":7,"date":13,"utc":true},{"year":2023,"month":7,"date":18,"utc":true},{"year":2023,"month":7,"date":23,"utc":true},{"year":2023,"month":7,"date":28,"utc":true},{"year":2023,"month":8,"date":2,"utc":true},{"year":2023,"month":8,"date":7,"utc":true},{"year":2023,"month":8,"date":12,"utc":true},{"year":2023,"month":8,"date":17,"utc":true},{"year":2023,"month":8,"date":22,"utc":true},{"year":2023,"month":8,"date":27,"utc":true},{"year":2023,"month":9,"date":1,"utc":true}]}},
"y":{"field":"v","type":"quantitative","scale":{"domain":[0,4.5]},"axis":{"title":"bar","titleFontSize":8,"labelFontSize":7.5,"format":"~g","values":[0,0.5,1,1.5,2,2.5,3,3.5,4,4.5],"grid":true,"titlePadding":10,"labelOverlap":false}},
"color":{"datum":"BWRO Delta P 1","type":"nominal","scale":{"domain":["BWRO Delta P 1","BWRO Delta P 2"],"range":["#F0520E","#0E4F5C"]},
"legend":{"title":null,"orient":"bottom","direction":"horizontal","symbolType":"circle","symbolSize":30,"labelFontSize":7.5,"labelColor":"#595959","columnPadding":14,"offset":12}}
}},
{"layer":[
{"data":{"name":"dp2"},"mark":{"type":"circle","size":26,"opacity":1},
"encoding":{
"x":{"field":"d","type":"temporal","scale":{"type":"utc","domain":[{"year":2023,"month":4,"date":24,"utc":true},{"year":2023,"month":9,"date":1,"utc":true}]},"axis":null},
"y":{"field":"v","type":"quantitative","scale":{"domain":[0,4.5]},"axis":null},
"color":{"datum":"BWRO Delta P 2","type":"nominal"}
}},
{"data":{"values":[{"a":"2023-07-27T14:00:00Z","b":"2023-08-14T05:00:00Z","m":"2023-08-05T10:00:00Z","t":"Decrease DP"}]},
"layer":[
{"mark":{"type":"rect","fill":"#9EDDB9"},"encoding":{"x":{"field":"a","type":"temporal","axis":null},"x2":{"field":"b"},"y":{"datum":2.82,"axis":null},"y2":{"datum":2.44}}},
{"mark":{"type":"text","fontSize":12,"color":"#262626","baseline":"middle","align":"center"},"encoding":{"x":{"field":"m","type":"temporal","axis":null},"y":{"datum":2.63,"axis":null},"text":{"field":"t"}}}
]},
{"data":{"values":[{"a":"2023-07-26T19:00:00Z","b":"2023-08-24T02:00:00Z","m":"2023-08-09T23:00:00Z","t":"Kurita Trial"}]},
"layer":[
{"mark":{"type":"rect","fill":"#C8A9DF"},"encoding":{"x":{"field":"a","type":"temporal","axis":null},"x2":{"field":"b"},"y":{"datum":0.81,"axis":null},"y2":{"datum":0.40}}},
{"mark":{"type":"text","fontSize":11,"color":"#262626","baseline":"middle","align":"center"},"encoding":{"x":{"field":"m","type":"temporal","axis":null},"y":{"datum":0.605,"axis":null},"text":{"field":"t"}}}
]},
{"data":{"values":[{"a":"2023-07-26T14:00:00Z","b":"2023-08-24T07:00:00Z"}]},
"mark":{"type":"rect","filled":false,"stroke":"#7030A0","strokeWidth":4,"strokeDash":[18,11]},
"encoding":{"x":{"field":"a","type":"temporal","axis":null},"x2":{"field":"b"},"y":{"datum":4.41,"axis":null},"y2":{"datum":0.18}}},
{"data":{"values":[{"a":"2023-07-23T22:00:00Z","va":2.69,"b":"2023-07-28T08:00:00Z","vb":2.40}]},
"mark":{"type":"rule","color":"#1DA750","strokeWidth":4},
"encoding":{"x":{"field":"a","type":"temporal","axis":null},"x2":{"field":"b"},"y":{"field":"va","type":"quantitative","axis":null},"y2":{"field":"vb"}}},
{"data":{"values":[{"d":"2023-07-28T08:00:00Z","v":2.40}]},
"mark":{"type":"point","shape":"triangle-right","angle":36,"filled":true,"size":80,"color":"#1DA750","opacity":1},
"encoding":{"x":{"field":"d","type":"temporal","axis":null},"y":{"field":"v","type":"quantitative","axis":null}}}
]}
]
}
]
}
